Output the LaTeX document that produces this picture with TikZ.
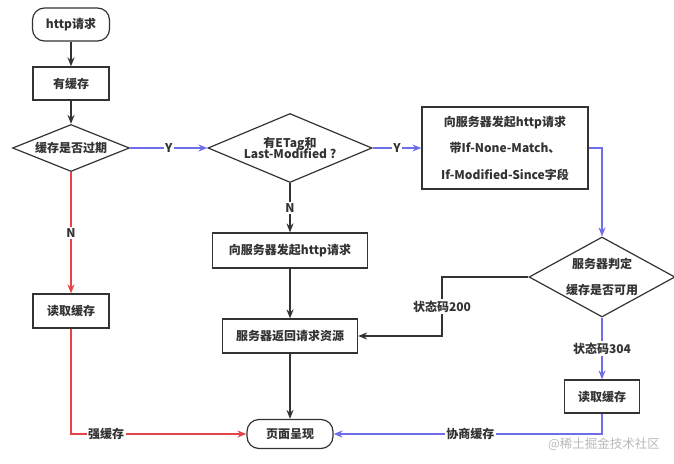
\documentclass[tikz,border=0pt]{standalone}
\usepackage{fontspec}
\setmainfont{Noto Sans CJK SC}
\usetikzlibrary{shapes.geometric,arrows.meta}
\definecolor{dk}{RGB}{51,51,51}
\definecolor{bl}{RGB}{110,110,232}
\definecolor{rd}{RGB}{232,68,72}
\begin{document}
\begin{tikzpicture}[x=1pt,y=-1pt,
  font=\fontsize{12}{13.5}\selectfont\bfseries,
  every node/.style={text=dk},
  box/.style={draw=dk,line width=1.2pt,rectangle,inner sep=0pt},
  term/.style={draw=dk,line width=1.2pt,rectangle,rounded corners=12pt,inner sep=0pt},
  dia/.style={draw=dk,line width=1.2pt,diamond,inner sep=0pt,align=center},
  conn/.style={line width=1.5pt,-{Stealth[length=9pt,width=7pt]}},
  lbl/.style={fill=white,inner sep=1.5pt}]
\useasboundingbox (0,0) rectangle (674,463);
\node[term,minimum width=77pt,minimum height=33pt] (start) at (71,24.5) {http请求};
\node[box,minimum width=76pt,minimum height=33pt] (hascache) at (71,83.5) {有缓存};
\node[dia,minimum width=117pt,minimum height=47pt,aspect=2.5] (expired) at (71,148) {缓存是否过期};
\node[dia,minimum width=164pt,minimum height=69pt,aspect=2.4] (etag) at (290,148) {有ETag和\\[-2pt]Last-Modified ?};
\node[box,minimum width=166pt,minimum height=82pt,align=center] (reqbox) at (505,148) {向服务器发起http请求\\[13pt]带If-None-Match、\\[13pt]If-Modified-Since字段};
\node[dia,minimum width=146pt,minimum height=80pt,aspect=1.8] (judge) at (602,277) {服务器判定\\[12pt]缓存是否可用};
\node[box,minimum width=155pt,minimum height=35pt] (midreq) at (290,250.5) {向服务器发起http请求};
\node[box,minimum width=135pt,minimum height=34pt] (srvret) at (290,336) {服务器返回请求资源};
\node[term,minimum width=86pt,minimum height=29pt] (page) at (290,434) {页面呈现};
\node[box,minimum width=76pt,minimum height=34pt] (read1) at (71,311) {读取缓存};
\node[box,minimum width=75pt,minimum height=33pt] (read2) at (602,396.5) {读取缓存};
\coordinate (c200) at (442,277);
\draw[conn,dk] (start) -- (hascache);
\draw[conn,dk] (hascache) -- (expired);
\draw[conn,bl] (expired.east) -- node[lbl]{Y} (etag.west);
\draw[conn,bl] (etag.east) -- node[lbl]{Y} (reqbox.west);
\draw[conn,bl] (reqbox.east) -| (judge.north);
\draw[conn,dk] (etag.south) -- node[lbl]{N} (midreq.north);
\draw[conn,dk] (midreq) -- (srvret);
\draw[conn,dk] (srvret) -- (page);
\draw[conn,dk] (judge.west) -- (c200) |- node[lbl,pos=0.25]{状态码200} (srvret.east);
\draw[conn,bl] (judge.south) -- node[lbl]{状态码304} (read2.north);
\draw[conn,bl] (read2.south) |- node[lbl,pos=0.745]{协商缓存} (page.east);
\draw[conn,rd] (expired.south) -- node[lbl]{N} (read1.north);
\draw[conn,rd] (read1.south) |- node[lbl,pos=0.6]{强缓存} (page.west);
\node[text=gray!55,font=\fontsize{12.5}{14}\selectfont] (wm) at (604,444) {@稀土掘金技术社区};
\end{tikzpicture}
\end{document}
